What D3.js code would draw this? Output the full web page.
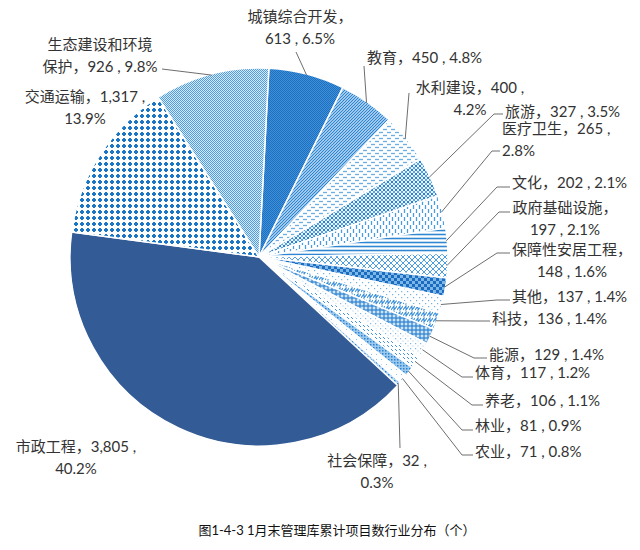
<!DOCTYPE html>
<html><head><meta charset="utf-8">
<script src="https://cdn.jsdelivr.net/npm/d3@7"></script>
<style>
html,body{margin:0;padding:0;background:#fff;}
svg{display:block;}
text{font-family:Lato,"Noto Sans CJK SC",sans-serif;}
</style></head>
<body>
<svg id="chart" width="640" height="550"></svg>
<script>
// ---- data ----
const categories = ["城镇综合开发","教育","水利建设","旅游","医疗卫生","文化","政府基础设施","保障性安居工程","其他","科技","能源","体育","养老","林业","农业","社会保障","市政工程","交通运输","生态建设和环境保护"];
const values = [613,450,400,327,265,202,197,148,137,136,129,117,106,81,71,32,3805,1317,926];
const valueLabels = ["613","450","400","327","265","202","197","148","137","136","129","117","106","81","71","32","3,805","1,317","926"];
const percentLabels = ["6.5%","4.8%","4.2%","3.5%","2.8%","2.1%","2.1%","1.6%","1.4%","1.4%","1.4%","1.2%","1.1%","0.9%","0.8%","0.3%","40.2%","13.9%","9.8%"];
const caption = "图1-4-3  1月末管理库累计项目数行业分布（个）";

// ---- label layout (positions only) ----
// lines: how the label text is split; x,y: anchor of first line; dy: line gap; anchor; leader: [elbowX, elbowY, endX] or null
const labelLayout = [
  {lines:["城镇综合开发，","{v} , {p}"], x:300, y:22, anchor:"middle", leader:[296,52,296]},
  {lines:["教育，{v} , {p}"], x:367, y:63, anchor:"start", leader:[364,66,364]},
  {lines:["水利建设，{v} ,","{p}"], x:470, y:93, anchor:"middle", leader:[409,93,409]},
  {lines:["旅游，{v} , {p}"], x:505, y:117, anchor:"start", leader:[494,114,503]},
  {lines:["医疗卫生，{v} ,","{p}"], x:502, y:134, anchor:"start", leader:[492,151,500]},
  {lines:["文化，{v} , {p}"], x:512, y:188, anchor:"start", leader:[497,187,510]},
  {lines:["政府基础设施，","{v} , {p}"], x:565, y:213, anchor:"middle", leader:[499,212,510]},
  {lines:["保障性安居工程，","{v} , {p}"], x:572, y:255, anchor:"middle", leader:[497,253,510]},
  {lines:["其他，{v} , {p}"], x:512, y:302, anchor:"start", leader:[497,300,510]},
  {lines:["科技，{v} , {p}"], x:492, y:324, anchor:"start", leader:[478,321,490]},
  {lines:["能源，{v} , {p}"], x:489, y:360, anchor:"start", leader:[474,358,487]},
  {lines:["体育，{v} , {p}"], x:475, y:378, anchor:"start", leader:[462,377,473]},
  {lines:["养老，{v} , {p}"], x:485, y:406, anchor:"start", leader:[472,405,483]},
  {lines:["林业，{v} , {p}"], x:475, y:431, anchor:"start", leader:[462,430,473]},
  {lines:["农业，{v} , {p}"], x:475, y:457, anchor:"start", leader:[462,455,473]},
  {lines:["社会保障，{v} ,","{p}"], x:377, y:466, anchor:"middle", leader:[400,448,400]},
  {lines:["市政工程，{v} ,","{p}"], x:76, y:452, anchor:"middle", leader:null},
  {lines:["交通运输，{v} ,","{p}"], x:85, y:102, anchor:"middle", leader:null},
  {lines:["生态建设和环境","保护，{v} , {p}"], x:100, y:50, anchor:"middle", leader:[162,69,162]}
];

// ---- patterns ----
const svg = d3.select("#chart");
const defs = svg.append("defs");
function pat(id, w, h, bg, build){
  const p = defs.append("pattern").attr("id", id).attr("patternUnits","userSpaceOnUse").attr("width", w).attr("height", h);
  p.append("rect").attr("width", w).attr("height", h).attr("fill", bg);
  build(p);
}
const line = (p,x1,y1,x2,y2,c,w)=>p.append("line").attr("x1",x1).attr("y1",y1).attr("x2",x2).attr("y2",y2).attr("stroke",c).attr("stroke-width",w);
const rect = (p,x,y,w,h,c)=>p.append("rect").attr("x",x).attr("y",y).attr("width",w).attr("height",h).attr("fill",c);

pat("p0",2,2,"#3f8fd9",p=>{rect(p,0,0,1,1,"#1d6fc0");rect(p,1,1,1,1,"#1d6fc0");});
pat("p1",3,3,"#fff",p=>{line(p,0,3,3,0,"#2a85d4",1.3);line(p,-1,1,1,-1,"#2a85d4",1.3);line(p,2,4,4,2,"#2a85d4",1.3);});
pat("p2",8,6,"#fff",p=>{line(p,0,1.5,4,1.5,"#6aaee4",1.3);line(p,4,4.5,8,4.5,"#6aaee4",1.3);});
pat("p3",4,4,"#e9f3fb",p=>{rect(p,0,0,2,2,"#2d80cf");rect(p,2,2,2,2,"#5aa3e0");});
pat("p4",6,8,"#fff",p=>{line(p,1.5,0,1.5,4,"#4b9bde",1.3);line(p,4.5,4,4.5,8,"#4b9bde",1.3);});
pat("p5",4,4,"#fff",p=>{line(p,0,1.5,4,1.5,"#2f86d3",1.6);});
pat("p6",6,6,"#fff",p=>{line(p,0,0,6,6,"#4e9de0",1);line(p,6,0,0,6,"#4e9de0",1);});
pat("p7",6,6,"#7db7e8",p=>{rect(p,0,0,3,3,"#1b6cbf");rect(p,3,3,3,3,"#1b6cbf");});
pat("p8",6,6,"#fff",p=>{rect(p,1,1,1.2,1.2,"#6fb0e5");rect(p,4,4,1.2,1.2,"#6fb0e5");});
pat("p9",6,6,"#fff",p=>{p.append("path").attr("d","M0,5 L3,1 L3,5 L6,1").attr("fill","none").attr("stroke","#3b90da").attr("stroke-width",1.1);});
pat("p10",4,4,"#cfe4f6",p=>{line(p,0,1,4,1,"#2b82d0",1.2);line(p,1,0,1,4,"#2b82d0",1.2);});
pat("p11",5,5,"#fff",p=>{rect(p,1,1,1.2,1.2,"#7db8e8");rect(p,3.5,3.5,1,1,"#9cc9ee");});
pat("p12",4,4,"#fff",p=>{line(p,0,0,2,2,"#3f93dc",1);});
pat("p13",3,3,"#9ccaee",p=>{rect(p,0,0,1.5,1.5,"#2a80d0");});
pat("p14",5,5,"#fff",p=>{rect(p,2,2,1,1,"#8cc0ea");});
pat("p15",3,3,"#bcdcf4",p=>{rect(p,0,0,1.5,1.5,"#2a80d0");});
pat("p16",4,4,"#335b95",p=>{});
pat("p17",6,6,"#fff",p=>{rect(p,2,1,2,4,"#1b76c6");rect(p,1,2,4,2,"#1b76c6");});
pat("p18",2,2,"#d8eaf8",p=>{rect(p,0,0,1,1,"#4f9de0");rect(p,1,1,1,1,"#4f9de0");});

// ---- pie ----
const cx = 259, cy = 257, R = 189;
const start = 3 * Math.PI / 180;
const pie = d3.pie().sort(null).value(d => d.v).startAngle(start).endAngle(start + 2 * Math.PI);
const data = categories.map((c,i)=>({c, v: values[i], i}));
const arcs = pie(data);
const arc = d3.arc().innerRadius(0).outerRadius(R);

const g = svg.append("g").attr("transform", `translate(${cx},${cy})`);
g.selectAll("path.slice").data(arcs).enter().append("path")
  .attr("class","slice")
  .attr("d", arc)
  .attr("fill", d => `url(#p${d.data.i})`)
  .attr("stroke", "#fff").attr("stroke-width", 1.5).attr("stroke-linejoin","round");

// ---- leaders ----
const lg = svg.append("g");
arcs.forEach((a,i)=>{
  const L = labelLayout[i];
  if (!L.leader) return;
  const mid = (a.startAngle + a.endAngle) / 2;
  const px = cx + (R - 1) * Math.sin(mid), py = cy - (R - 1) * Math.cos(mid);
  const [ex, ey, hx] = L.leader;
  lg.append("path")
    .attr("d", `M${px},${py} L${ex},${ey} L${hx},${ey}`)
    .attr("fill","none").attr("stroke","#6e6e6e").attr("stroke-width",1);
});

// ---- labels ----
const tg = svg.append("g").attr("font-size", 15).attr("fill", "#333");
arcs.forEach((a,i)=>{
  const L = labelLayout[i];
  const t = tg.append("text").attr("x", L.x).attr("y", L.y).attr("text-anchor", L.anchor);
  L.lines.forEach((s,k)=>{
    const txt = s.replace("{v}", valueLabels[i]).replace("{p}", percentLabels[i]);
    t.append("tspan").attr("x", L.x).attr("dy", k === 0 ? 0 : 22).text(txt);
  });
});

// ---- caption ----
svg.append("text").attr("x", 337).attr("y", 535).attr("text-anchor","middle")
  .attr("font-size", 13).attr("fill", "#111").text(caption);
</script>
</body></html>
